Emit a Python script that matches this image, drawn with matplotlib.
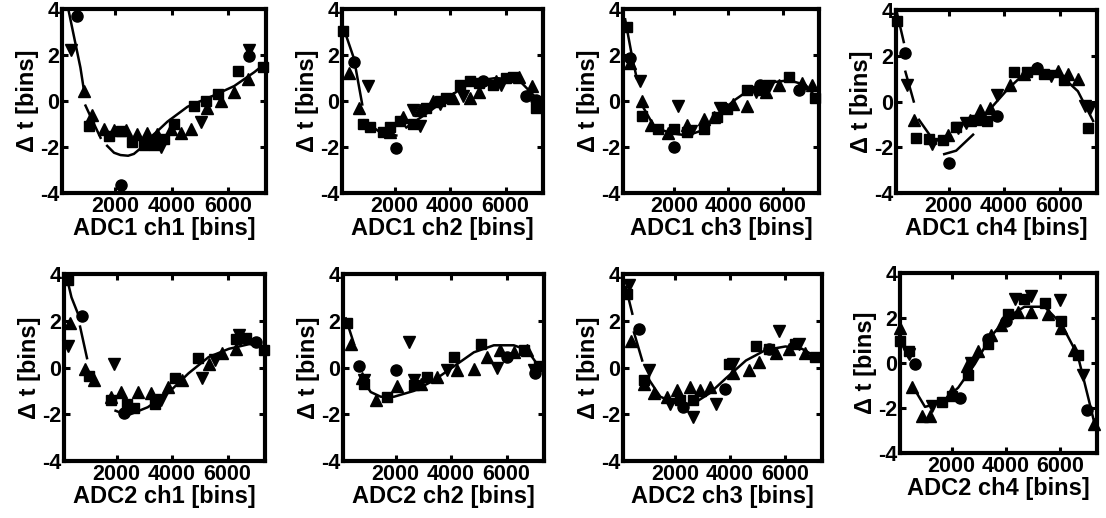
import numpy as np
import matplotlib
matplotlib.use("Agg")
import matplotlib.pyplot as plt

plt.rcParams['font.family'] = ['Liberation Sans', 'DejaVu Sans']
plt.rcParams['font.weight'] = 'bold'
plt.rcParams['axes.unicode_minus'] = False

NAN = float('nan')

# ---------------- data (x [bins], dt [bins]) ----------------
titles = ["ADC1 ch1 [bins]", "ADC1 ch2 [bins]", "ADC1 ch3 [bins]", "ADC1 ch4 [bins]",
          "ADC2 ch1 [bins]", "ADC2 ch2 [bins]", "ADC2 ch3 [bins]", "ADC2 ch4 [bins]"]
x_ticks = [2000, 4000, 6000]
y_ticks = [-4, -2, 0, 2, 4]

# ADC1 ch1
a1c1_circ = [(640, 3.7), (2205, -3.65), (6755, 1.95)]
a1c1_up = [(875, 0.45), (1170, -0.6), (1590, -1.2), (1940, -1.25), (2360, -1.25), (2775, -1.45),
           (3130, -1.4), (3490, -1.45), (3960, -1.2), (4320, -1.4), (4680, -1.2), (5270, -0.3),
           (5745, 0.0), (6220, 0.4), (6700, 0.95)]
a1c1_down = [(435, 2.2), (6755, 2.2), (3610, -2.0), (5030, -0.9)]
a1c1_sq = [(1055, -1.1), (1765, -1.5), (2180, -1.3), (2600, -1.8), (3010, -1.9), (3370, -1.9),
           (3730, -1.65), (4080, -1.0), (4800, -0.2), (5210, 0.0), (5630, 0.3), (6365, 1.3), (7230, 1.5)]
a1c1_fit = [(340, 3.9), (755, 1.45), (875, 0.5), (NAN, NAN), (935, -0.2), (1200, -0.9), (1470, -1.6),
            (NAN, NAN), (1705, -1.95), (1950, -2.25), (2180, -2.35), (2450, -2.38), (2655, -2.3),
            (2950, -2.0), (NAN, NAN), (3130, -1.7), (3500, -1.3), (3845, -0.9), (4560, -0.25),
            (5510, 0.25), (6220, 0.65), (6930, 1.25), (7290, 1.6)]

# ADC1 ch2
a1c2_circ = [(530, 1.7), (2060, -2.05), (5180, 0.85), (6730, 0.2), (7090, 0.05)]
a1c2_up = [(360, 1.2), (720, -0.3), (1820, -1.35), (2300, -0.7), (2900, -0.4), (3380, 0.0),
           (4100, 0.15), (4700, 0.15), (5050, 0.4), (5650, 0.85), (6490, 1.05), (6970, 0.65)]
a1c2_down = [(1040, 0.65), (2660, -0.4), (2900, -1.1), (3620, -0.15), (4460, 0.2), (5840, 0.7)]
a1c2_sq = [(143, 3.05), (862, -1.0), (1100, -1.13), (1580, -1.35), (1820, -1.13), (2180, -0.85),
           (2660, -1.0), (3140, -0.3), (3620, 0.0), (3860, 0.15), (4340, 0.7), (4700, 0.85),
           (5050, 0.8), (5530, 0.7), (6010, 1.0), (6250, 1.05), (7090, -0.3)]
a1c2_fit = [(120, 3.3), (530, 1.85), (830, -0.15), (NAN, NAN), (900, -0.85), (1460, -1.35),
            (2060, -1.5), (NAN, NAN), (2420, -1.15), (3260, -0.45), (4100, 0.3), (4820, 0.85),
            (5650, 1.0), (6490, 0.9), (7090, 0.15)]

# ADC1 ch3
a1c3_circ = [(365, 1.85), (2000, -2.0), (3820, -0.3), (5150, 0.7), (6600, 0.5)]
a1c3_up = [(365, 1.65), (790, 0.0), (1150, -1.05), (1760, -1.4), (2485, -1.05), (3090, -0.8),
           (3450, -0.7), (4180, -0.15), (4670, -0.2), (5400, 0.4), (5880, 0.7), (6730, 0.8), (7090, 0.7)]
a1c3_down = [(727, 0.85), (2120, -0.2), (2600, -1.3), (3700, -0.3), (5030, 0.4), (5515, 0.65)]
a1c3_sq = [(243, 3.2), (788, -0.65), (1394, -1.2), (2000, -1.2), (2485, -1.35), (3090, -1.2),
           (3576, -0.7), (3940, -0.35), (4670, 0.5), (5150, 0.5), (6240, 1.05), (7210, 0.15)]
a1c3_fit = [(180, 3.55), (424, 2.0), (606, 1.0), (NAN, NAN), (788, -0.15), (1273, -1.15),
            (1880, -1.4), (2485, -1.5), (2970, -1.3), (3576, -0.65), (4180, 0.0), (4790, 0.5),
            (5515, 0.8), (6240, 0.9), (6850, 0.7), (7210, 0.2)]

# ADC1 ch4
a1c4_circ = [(440, 2.1), (2020, -2.7), (3730, -0.65), (5200, 1.45)]
a1c4_up = [(740, -0.8), (1960, -1.45), (2760, -0.8), (3120, -0.35), (3490, -0.3), (4220, 0.7),
           (4710, 1.2), (5200, 1.45), (5930, 1.35), (6290, 1.2), (6660, 1.0)]
a1c4_down = [(500, 0.7), (1410, -1.85), (2330, -1.15), (2630, -0.95), (3730, 0.3), (5680, 1.1),
             (6900, -0.2), (7090, -0.3)]
a1c4_sq = [(133, 3.5), (804, -1.6), (1290, -1.65), (1780, -1.7), (2270, -1.1), (3000, -0.8),
           (3370, -0.85), (4340, 1.3), (4830, 1.3), (5440, 1.2), (6170, 0.95), (7030, -1.15)]
a1c4_fit = [(130, 3.9), (380, 2.6), (NAN, NAN), (440, 1.3), (740, 0.0), (NAN, NAN), (930, -0.8),
            (1540, -1.85), (NAN, NAN), (1840, -2.3), (2270, -2.15), (2880, -1.45), (NAN, NAN),
            (3300, -0.6), (4100, 0.5), (4710, 1.2), (5440, 1.35), (6170, 1.0), (6660, 0.45), (7210, -0.85)]

# ADC2 ch1
a2c1_circ = [(740, 2.2), (2270, -1.95), (7030, 1.1)]
a2c1_up = [(320, 1.9), (870, -0.05), (1170, -0.55), (1780, -1.25), (2150, -1.05), (2760, -1.05),
           (3250, -1.1), (3850, -0.85), (4340, -0.55), (5320, 0.15), (5810, 0.6), (6290, 0.8)]
a2c1_down = [(255, 0.9), (1900, 0.15), (3610, -1.4), (5080, -0.47), (5560, 0.3), (6420, 1.4)]
a2c1_sq = [(255, 3.75), (990, -0.35), (1780, -1.4), (2390, -1.55), (2630, -1.75), (3370, -1.55),
           (4100, -0.47), (4950, 0.4), (6290, 1.2), (6660, 1.25), (7300, 0.75)]
a2c1_fit = [(190, 3.9), (370, 3.0), (620, 2.25), (NAN, NAN), (680, 1.75), (930, 0.4), (NAN, NAN),
            (1960, -1.85), (2390, -2.05), (3120, -1.7), (3850, -1.1), (4590, -0.25), (5320, 0.45),
            (6050, 0.8), (6780, 1.0), (7350, 0.9)]

# ADC2 ch2
a2c2_circ = [(680, 0.05), (2000, -0.1), (6020, 0.45), (7040, -0.25)]
a2c2_up = [(380, 1.0), (800, -0.45), (1280, -1.4), (2060, -0.8), (2900, -0.7), (3500, -0.4),
           (4220, -0.1), (4820, -0.05), (5300, 0.45), (5780, 0.75), (6260, 0.65), (6740, 0.75)]
a2c2_down = [(2480, 1.1), (860, -0.55), (2660, -0.55), (3860, -0.1), (5660, 0.0), (7000, -0.1)]
a2c2_sq = [(260, 1.9), (860, -0.7), (1700, -1.25), (2660, -0.75), (3140, -0.4), (4100, 0.45),
           (5060, 1.0), (6620, 0.75), (7160, 0.05)]
a2c2_fit = [(200, 2.1), (500, 1.0), (NAN, NAN), (740, -0.4), (1100, -1.05), (1460, -1.25),
            (1940, -1.25), (2660, -1.0), (3380, -0.55), (4100, 0.05), (4820, 0.65), (5540, 0.95),
            (6260, 0.95), (6740, 0.75), (7160, 0.05)]

# ADC2 ch3
a2c3_circ = [(680, 1.65), (2300, -1.7), (3800, -0.9), (5420, 0.8)]
a2c3_up = [(380, 1.15), (860, -0.7), (1220, -1.1), (1700, -1.25), (2060, -0.95), (2540, -0.85),
           (2900, -0.95), (3260, -0.85), (4100, -0.25), (4700, -0.1), (5060, 0.25), (5660, 0.6),
           (6140, 0.8), (6740, 0.6)]
a2c3_down = [(320, 3.55), (1040, -0.1), (1820, -1.55), (2660, -2.1), (3500, -1.55), (4100, 0.15),
             (5780, 1.55), (6500, 1.0)]
a2c3_sq = [(260, 3.15), (860, -0.55), (2180, -1.4), (2660, -1.4), (3980, 0.15), (4940, 0.9),
           (5420, 0.8), (6380, 1.0), (7100, 0.45)]
a2c3_fit = [(200, 3.45), (440, 2.3), (NAN, NAN), (500, 1.5), (800, 0.3), (NAN, NAN), (980, -0.4),
            (1460, -1.25), (2060, -1.55), (2660, -1.55), (3260, -1.1), (3860, -0.45), (4580, 0.3),
            (5300, 0.75), (6020, 0.9), (6620, 0.8), (7220, 0.4)]

# ADC2 ch4
a2c4_circ = [(660, -0.05), (2300, -1.55), (3340, 1.05), (4010, 1.85), (7000, -2.1)]
a2c4_up = [(110, 1.55), (540, -1.05), (900, -2.35), (1210, -2.35), (2000, -1.25), (2550, -0.15),
           (2980, 0.55), (3460, 1.25), (3830, 1.7), (4440, 2.25), (4930, 2.25), (5540, 2.2),
           (6030, 1.55), (6520, 0.6), (7240, -2.7)]
a2c4_down = [(415, 0.4), (1270, -1.9), (2730, 0.0), (4320, 2.85), (4930, 3.0), (5970, 2.8), (6820, -0.55)]
a2c4_sq = [(110, 1.0), (415, 0.55), (1630, -1.75), (2000, -1.45), (2610, -0.55), (3340, 0.85),
           (4070, 2.2), (4680, 2.85), (5420, 2.65), (6030, 1.85), (6640, 0.35)]
a2c4_fit = [(60, 1.1), (415, 0.25), (NAN, NAN), (600, -1.1), (1020, -1.95), (1630, -1.75),
            (2240, -1.1), (2850, -0.05), (3460, 1.2), (4070, 2.05), (4680, 2.5), (5420, 2.5),
            (6030, 1.75), (6640, 0.35), (7060, -1.7), (7300, -2.9)]

panels = [
    (a1c1_circ, a1c1_up, a1c1_down, a1c1_sq, a1c1_fit),
    (a1c2_circ, a1c2_up, a1c2_down, a1c2_sq, a1c2_fit),
    (a1c3_circ, a1c3_up, a1c3_down, a1c3_sq, a1c3_fit),
    (a1c4_circ, a1c4_up, a1c4_down, a1c4_sq, a1c4_fit),
    (a2c1_circ, a2c1_up, a2c1_down, a2c1_sq, a2c1_fit),
    (a2c2_circ, a2c2_up, a2c2_down, a2c2_sq, a2c2_fit),
    (a2c3_circ, a2c3_up, a2c3_down, a2c3_sq, a2c3_fit),
    (a2c4_circ, a2c4_up, a2c4_down, a2c4_sq, a2c4_fit),
]

# ---------------- layout (pixels: left, top, width, height) ----------------
W, H = 1106, 518
rects_px = [(62, 9, 204, 184), (342, 9, 201, 184), (623, 9, 196, 184), (896, 10, 201, 183),
            (64, 274, 201, 187), (343, 274, 201, 187), (623, 274, 199, 187), (900, 273, 197, 180)]

fig = plt.figure(figsize=(W / 100, H / 100), dpi=100)

def xy(pts):
    return [p[0] for p in pts], [p[1] for p in pts]

for i, (circ, up, down, sq, fit) in enumerate(panels):
    l, t, w, h = rects_px[i]
    ax = fig.add_axes([l / W, 1 - (t + h) / H, w / W, h / H])
    fx, fy = xy(fit)
    ax.plot(fx, fy, '-', color='black', lw=1.8, zorder=2)
    for pts, m, ms in ((sq, 's', 7.5), (up, '^', 8.5), (down, 'v', 8.5), (circ, 'o', 8)):
        px, py = xy(pts)
        ax.plot(px, py, linestyle='none', marker=m, ms=ms, color='black', mec='black', zorder=3,
                clip_on=False)
    ax.set_xlim(100, 7350)
    ax.set_ylim(-4, 4)
    ax.set_xticks(x_ticks)
    ax.set_yticks(y_ticks)
    ax.set_xticklabels([str(v) for v in x_ticks], fontsize=15.5, fontweight='bold')
    ax.set_yticklabels([str(v) for v in y_ticks], fontsize=15.5, fontweight='bold')
    ax.tick_params(direction='in', length=4, width=2.2, top=True, right=True, pad=2)
    for s in ax.spines.values():
        s.set_linewidth(3.0)
    ax.set_xlabel(titles[i], fontsize=17, fontweight='bold', labelpad=0)
    ax.set_ylabel('Δ t [bins]', fontsize=17, fontweight='bold', labelpad=1)

fig.savefig('out.png', dpi=100)
